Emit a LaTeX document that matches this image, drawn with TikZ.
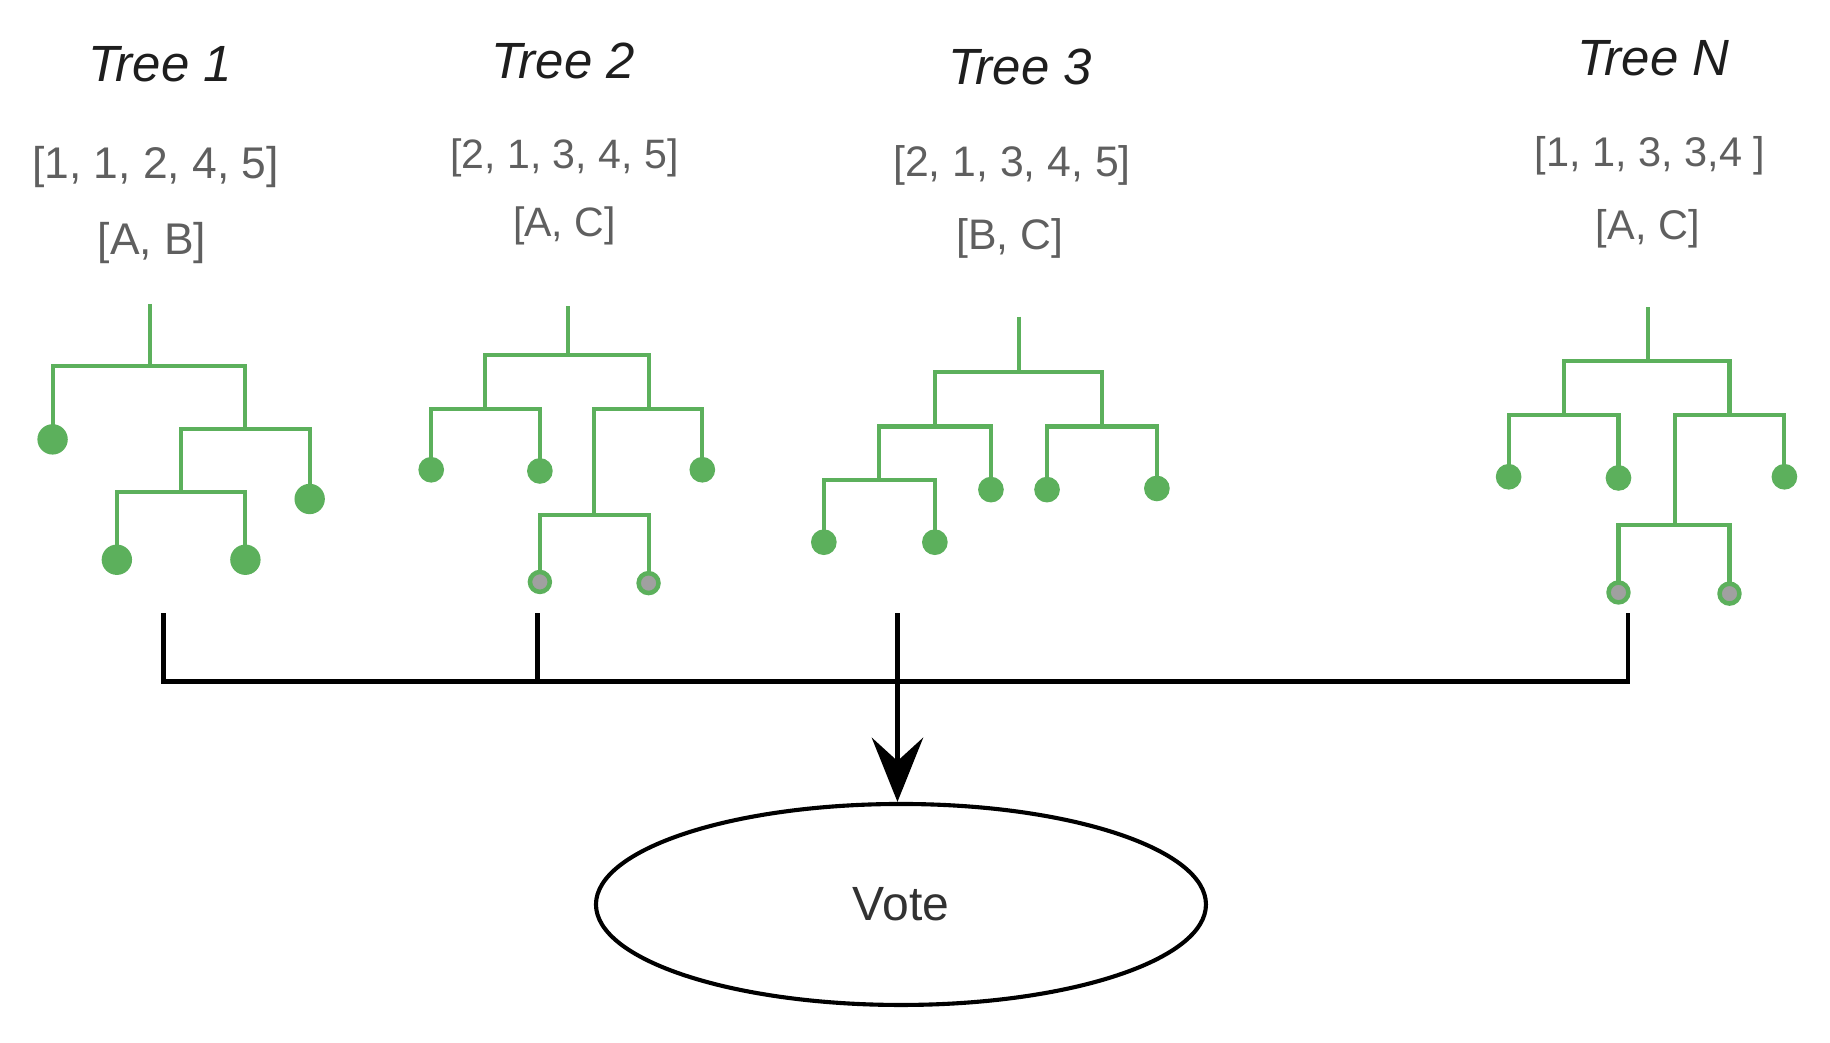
\documentclass[tikz,border=0pt]{standalone}
\usepackage{fontspec}
\setmainfont{Liberation Sans}
\usetikzlibrary{arrows.meta,shapes.geometric}
\definecolor{treegreen}{RGB}{92,176,92}
\definecolor{oobgray}{RGB}{160,160,160}
\definecolor{listgray}{RGB}{95,95,95}
\definecolor{titleblack}{RGB}{30,30,30}
\definecolor{votegray}{RGB}{50,50,50}
\tikzset{
  branch/.style={draw=treegreen, line width=1pt},
  leaf/.style={circle, fill=treegreen, inner sep=0pt, minimum size=2.2mm},
  bigleaf/.style={leaf, minimum size=2.6mm},
  oobleaf/.style={leaf, fill=oobgray, draw=treegreen, line width=1.1pt, minimum size=1.7mm},
  title/.style={font=\itshape\fontsize{12.4}{14}\selectfont, text=titleblack},
  list/.style={font=\fontsize{#1}{13}\selectfont, text=listgray},
  list/.default=10.8,
  bus/.style={line width=1.1pt},
}
\begin{document}
\begin{tikzpicture}
  \useasboundingbox (0,-0.04) rectangle (15.66,8.88);

  \node[title] (t1title) at (1.37, 8.33){Tree 1};
  \node[list] (t1list) at (1.33, 7.45){[1, 1, 2, 4, 5]};
  \node[list] (t1cls) at (1.30, 6.80){[A, B]};

  \node[title] (t2title) at (4.82, 8.36){Tree 2};
  \node[list=10] (t2list) at (4.83, 7.53){[2, 1, 3, 4, 5]};
  \node[list=10] (t2cls) at (4.83, 6.95){[A, C]};

  \node[title] (t3title) at (8.73, 8.31){Tree 3};
  \node[list=10.4] (t3list) at (8.66, 7.46){[2, 1, 3, 4, 5]};
  \node[list=10.4] (t3cls) at (8.64, 6.84){[B, C]};

  \node[title] (tntitle) at (14.15, 8.38){Tree N};
  \node[list=10.1] (tnlist) at (14.12, 7.55){[1, 1, 3, 3,4 ]};
  \node[list=10.1] (tncls) at (14.10, 6.92){[A, C]};

  % tree 1
  \coordinate (l1a) at (0.45, 5.12);
  \coordinate (l1b) at (2.65, 4.61);
  \coordinate (l1c) at (1.00, 4.09);
  \coordinate (l1d) at (2.10, 4.09);
  \draw[branch] (1.28, 6.28) to (1.28, 5.75);
  \draw[branch] (l1a) |- (2.10, 5.75) to (2.10, 5.21);
  \draw[branch] (1.55, 4.67) |- (2.65, 5.21) to (l1b);
  \draw[branch] (l1c) |- (2.10, 4.67) to (l1d);
  \foreach \c in {l1a, l1b, l1c, l1d}
    \node[bigleaf] (dot\c) at (\c){};

  % tree 2
  \coordinate (l2a) at (3.69, 4.86);
  \coordinate (l2b) at (4.62, 4.85);
  \coordinate (l2c) at (6.01, 4.86);
  \coordinate (l2d) at (4.62, 3.90);
  \coordinate (l2e) at (5.55, 3.89);
  \draw[branch] (4.86, 6.26) to (4.86, 5.84);
  \draw[branch] (4.15, 5.38) |- (5.55, 5.84) to (5.55, 5.38);
  \draw[branch] (l2a) |- (l2b |- 0, 5.38) to (l2b);
  \draw[branch] (5.08, 4.47) |- (6.01, 5.38) to (l2c);
  \draw[branch] (l2d) |- (l2e |- 0, 4.47) to (l2e);
  \foreach \c in {l2a, l2b, l2c}
    \node[leaf] (dot\c) at (\c){};
  \foreach \c in {l2d, l2e}
    \node[oobleaf] (dot\c) at (\c){};

  % tree 3
  \coordinate (l3a) at (7.05, 4.24);
  \coordinate (l3b) at (8.00, 4.24);
  \coordinate (l3c) at (8.48, 4.69);
  \coordinate (l3d) at (8.96, 4.69);
  \coordinate (l3e) at (9.90, 4.70);
  \draw[branch] (8.72, 6.17) to (8.72, 5.70);
  \draw[branch] (8.00, 5.23) |- (9.43, 5.70) to (9.43, 5.23);
  \draw[branch] (7.52, 4.77) |- (l3c |- 0, 5.23) to (l3c);
  \draw[branch] (l3a) |- (l3b |- 0, 4.77) to (l3b);
  \draw[branch] (l3d) |- (l3e |- 0, 5.23) to (l3e);
  \foreach \c in {l3a, l3b, l3c, l3d, l3e}
    \node[leaf] (dot\c) at (\c){};

  % tree N
  \coordinate (lna) at (12.91, 4.80);
  \coordinate (lnb) at (13.85, 4.79);
  \coordinate (lnc) at (15.27, 4.80);
  \coordinate (lnd) at (13.85, 3.81);
  \coordinate (lne) at (14.80, 3.80);
  \draw[branch] (14.10, 6.25) to (14.10, 5.79);
  \draw[branch] (13.38, 5.33) |- (14.80, 5.79) to (14.80, 5.33);
  \draw[branch] (lna) |- (lnb |- 0, 5.33) to (lnb);
  \draw[branch] (14.33, 4.39) |- (15.27, 5.33) to (lnc);
  \draw[branch] (lnd) |- (lne |- 0, 4.39) to (lne);
  \foreach \c in {lna, lnb, lnc}
    \node[leaf] (dot\c) at (\c){};
  \foreach \c in {lnd, lne}
    \node[oobleaf] (dot\c) at (\c){};

  \node[ellipse, draw, line width=1pt, minimum width=5.22cm, minimum height=1.72cm,
    font=\fontsize{11.7}{14}\selectfont, text=votegray] (vote) at (7.71, 1.14){Vote};

  \coordinate (j1) at (1.40, 3.63);
  \coordinate (j2) at (4.60, 3.63);
  \coordinate (j3) at (7.68, 3.63);
  \coordinate (j4) at (13.93, 3.63);
  \coordinate (bar) at (0, 3.05);
  \draw[bus] (j1) to (j1 |- bar) to (j4 |- bar) to (j4);
  \draw[bus] (j2) to (j2 |- bar);
  \draw[bus, -{Stealth[length=5.5mm, width=4.4mm, inset=2mm]}] (j3) to (j3 |- vote.north);
\end{tikzpicture}
\end{document}
